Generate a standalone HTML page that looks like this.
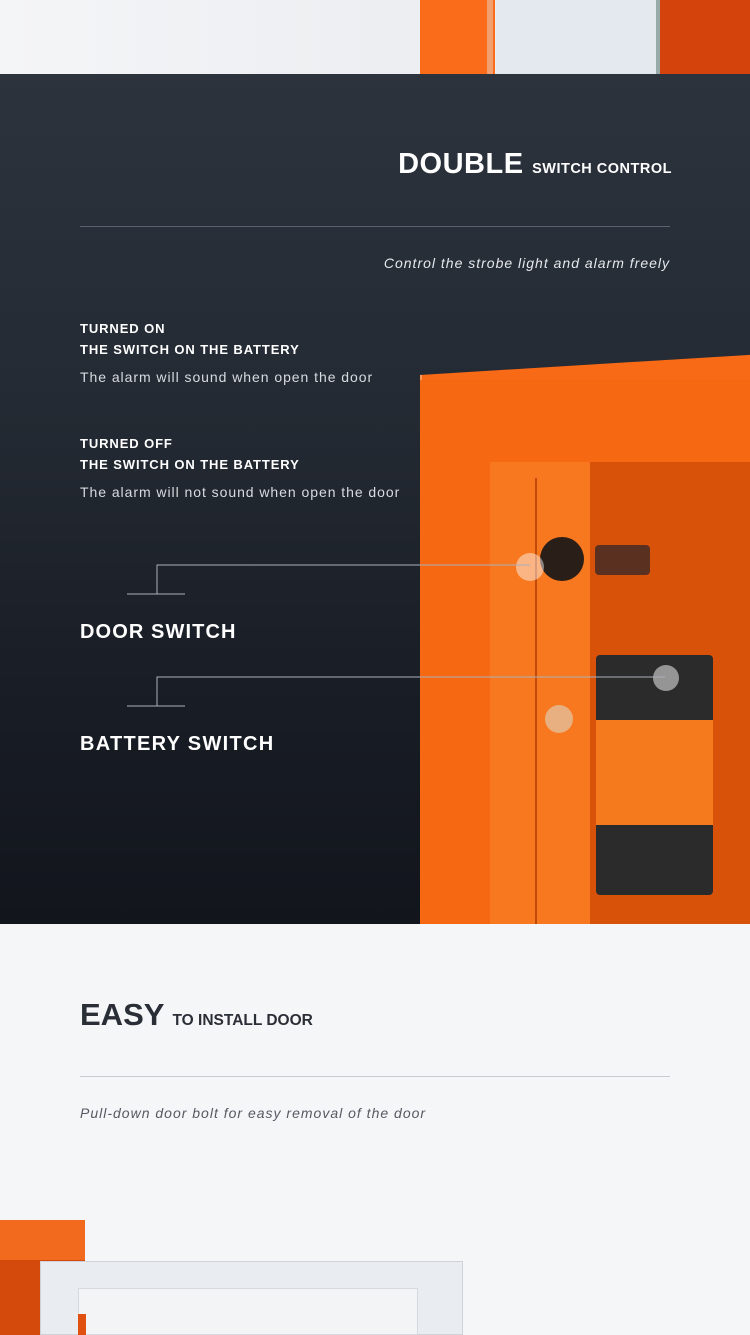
<!DOCTYPE html>
<html><head><meta charset="utf-8"><style>
*{margin:0;padding:0;box-sizing:border-box}
body{width:750px;height:1335px;position:relative;overflow:hidden;background:#f5f6f8;font-family:"Liberation Sans",sans-serif}
.a{position:absolute}
.dark{left:0;top:74px;width:750px;height:850px;background:linear-gradient(180deg,#2c333d 0%,#242a33 40%,#181c24 75%,#12151c 100%)}
.t{color:#fff;font-weight:bold}
.p{letter-spacing:0.95px}
</style></head><body>
<!-- top strip -->
<div class="a" style="left:0;top:0;width:750px;height:74px;background:linear-gradient(90deg,#f4f5f7 0,#eceef1 400px)"></div>
<div class="a" style="left:420px;top:0;width:75px;height:74px;background:#fa6b1a"></div>
<div class="a" style="left:487px;top:0;width:6px;height:74px;background:#f2a070"></div>
<div class="a" style="left:496px;top:0;width:160px;height:74px;background:#e4e9f0"></div>
<div class="a" style="left:656px;top:0;width:4px;height:74px;background:#9aa"></div>
<div class="a" style="left:660px;top:0;width:90px;height:74px;background:#d5430c"></div>

<div class="a dark"></div>
<!-- door -->
<div class="a" style="left:420px;top:375px;width:330px;height:549px;background:#f96a16;transform:skewY(-3.5deg);transform-origin:0 0;border-left:2px solid #ff9a55"></div>
<div class="a" style="left:420px;top:380px;width:330px;height:544px;background:#f76812"></div>
<div class="a" style="left:490px;top:462px;width:260px;height:462px;background:#d9520a"></div>
<div class="a" style="left:490px;top:462px;width:100px;height:462px;background:#f8781f"></div>
<div class="a" style="left:535px;top:478px;width:2px;height:446px;background:#c04a0a"></div>
<div class="a" style="left:540px;top:537px;width:44px;height:44px;border-radius:50%;background:#2a1e18"></div>
<div class="a" style="left:595px;top:545px;width:55px;height:30px;background:#5a3020;border-radius:4px"></div>
<div class="a" style="left:596px;top:655px;width:117px;height:240px;background:#2b2b2b;border-radius:4px"></div>
<div class="a" style="left:596px;top:720px;width:117px;height:105px;background:#f57a1e"></div>
<div class="a" style="left:545px;top:705px;width:28px;height:28px;border-radius:50%;background:#e8b080"></div>
<div class="a" style="left:516px;top:553px;width:28px;height:28px;border-radius:50%;background:rgba(255,255,255,.45)"></div>
<div class="a" style="left:653px;top:665px;width:26px;height:26px;border-radius:50%;background:rgba(255,255,255,.5)"></div>

<div class="a t" style="right:78px;top:148px;font-size:29px;white-space:nowrap;letter-spacing:.5px">DOUBLE <span style="font-size:14.5px">SWITCH CONTROL</span></div>
<div class="a" style="left:80px;top:226px;width:590px;height:1px;background:#5a6170"></div>
<div class="a" style="right:80px;top:255px;color:#e6e8ec;font-size:14px;font-style:italic;letter-spacing:1px">Control the strobe light and alarm freely</div>
<div class="a t" style="left:80px;top:318px;font-size:13px;line-height:21px;letter-spacing:.9px">TURNED ON<br>THE SWITCH ON THE BATTERY</div>
<div class="a p" style="left:80px;top:369px;color:#d8dbe0;font-size:14px">The alarm will sound when open the door</div>
<div class="a t" style="left:80px;top:433px;font-size:13px;line-height:21px;letter-spacing:.9px">TURNED OFF<br>THE SWITCH ON THE BATTERY</div>
<div class="a p" style="left:80px;top:484px;color:#d8dbe0;font-size:14px">The alarm will not sound when open the door</div>
<svg class="a" style="left:0;top:0" width="750" height="924"><g stroke="#aab0ba" stroke-width="1" fill="none">
<polyline points="127,594 185,594"/><polyline points="157,594 157,565 530,565"/>
<polyline points="127,706 185,706"/><polyline points="157,706 157,677 665,677"/></g></svg>
<div class="a t" style="left:80px;top:621px;font-size:20px;letter-spacing:1.1px">DOOR SWITCH</div>
<div class="a t" style="left:80px;top:733px;font-size:20px;letter-spacing:1.3px">BATTERY SWITCH</div>

<!-- easy section -->
<div class="a" style="left:80px;top:997px;font-size:31px;font-weight:bold;color:#2a2e36;white-space:nowrap">EASY <span style="font-size:15.5px">TO INSTALL DOOR</span></div>
<div class="a" style="left:80px;top:1076px;width:590px;height:1px;background:#c8cbd0"></div>
<div class="a" style="left:80px;top:1105px;color:#555a62;font-size:14px;font-style:italic;letter-spacing:1px">Pull-down door bolt for easy removal of the door</div>
<div class="a" style="left:0;top:1220px;width:85px;height:115px;background:#d44a0c"></div>
<div class="a" style="left:0;top:1220px;width:85px;height:40px;background:#f26a1e"></div>
<div class="a" style="left:40px;top:1261px;width:423px;height:74px;background:#e9ecf0;border:1px solid #cfd3d8"></div>
<div class="a" style="left:78px;top:1288px;width:340px;height:47px;background:#f2f4f6;border:1px solid #d6d9dd"></div>
<div class="a" style="left:78px;top:1314px;width:8px;height:21px;background:#e05010"></div>
</body></html>
